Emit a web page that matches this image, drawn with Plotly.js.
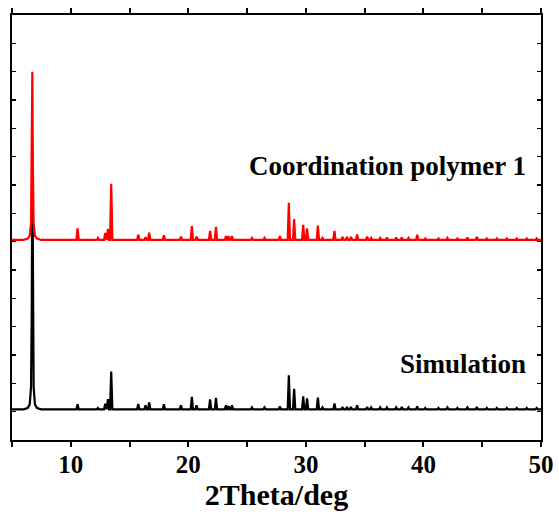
<!DOCTYPE html>
<html>
<head>
<meta charset="utf-8">
<script src="https://cdn.plot.ly/plotly-3.0.1.min.js"></script>
<style>
  html, body { margin: 0; padding: 0; background: #fff; }
  #chart { width: 559px; height: 514px; }
</style>
</head>
<body>
<div id="chart"></div>
<script>
// Powder XRD patterns: measured coordination polymer 1 (red, offset) vs simulated (black).

// Reflection positions (2θ, deg), shared by both patterns
const peakPositions = [10.58, 12.31, 12.93, 13.16, 13.44, 15.74, 16.36, 16.67, 17.92, 19.37,
  20.30, 20.70, 21.85, 22.35, 23.20, 23.42, 23.71, 25.41, 26.48, 27.79,
  28.55, 29.00, 29.77, 30.10, 31.02, 31.41, 32.43, 33.11, 33.49, 33.83,
  34.36, 35.21, 35.55, 36.32, 36.89, 37.68, 38.16, 38.73, 39.47, 40.15,
  41.28, 42.04, 42.89, 43.74, 44.54, 45.39, 46.24, 47.09, 47.94, 48.79, 49.63];

// Peak heights above the baseline (arbitrary intensity units)
const polymerHeights = [0.41, 0.07, 0.25, 0.39, 1.98, 0.18, 0.10, 0.26, 0.17, 0.12,
  0.49, 0.12, 0.32, 0.46, 0.14, 0.14, 0.14, 0.07, 0.07, 0.14,
  1.31, 0.74, 0.53, 0.41, 0.51, 0.07, 0.32, 0.11, 0.11, 0.11,
  0.19, 0.12, 0.07, 0.07, 0.09, 0.09, 0.09, 0.07, 0.18, 0.05,
  0.05, 0.07, 0.05, 0.09, 0.11, 0.05, 0.05, 0.05, 0.05, 0.05, 0.05];

const simulationHeights = [0.18, 0.05, 0.20, 0.36, 1.34, 0.19, 0.14, 0.25, 0.18, 0.14,
  0.44, 0.14, 0.35, 0.41, 0.14, 0.12, 0.14, 0.07, 0.07, 0.11,
  1.20, 0.73, 0.46, 0.39, 0.42, 0.07, 0.21, 0.09, 0.09, 0.09,
  0.14, 0.09, 0.07, 0.07, 0.07, 0.07, 0.09, 0.07, 0.11, 0.05,
  0.05, 0.07, 0.05, 0.07, 0.09, 0.05, 0.05, 0.05, 0.05, 0.05, 0.05];

// Strong low-angle reflection, traced point by point
const mainPeakX = [5.98, 6.33, 6.51, 6.62, 6.68, 6.73, 6.78, 6.84, 6.95, 7.13, 7.48];
const polymerMainRise = [0.00, 0.05, 0.15, 0.60, 2.50, 5.94, 2.50, 0.60, 0.15, 0.05, 0.00];
const simulationMainRise = [0.00, 0.05, 0.18, 0.80, 3.50, 9.00, 3.50, 0.80, 0.18, 0.05, 0.00];

// Baseline levels of the two stacked patterns
const polymerBaseline = 7.06;
const simulationBaseline = 1.08;

const xTickVals = [5, 10, 15, 20, 25, 30, 35, 40, 45, 50];
const xTickText = ['', '10', '', '20', '', '30', '', '40', '', '50'];

const seriesNames = ['Simulation', 'Coordination polymer 1'];

// Half-width of each reflection line drawn as a narrow spike
const HALF = 0.1;

function buildPattern(base, mainRise, heights) {
  const x = [5], y = [base];
  mainPeakX.forEach((p, i) => { x.push(p); y.push(base + mainRise[i]); });
  peakPositions.forEach((p, i) => {
    x.push(p - HALF, p, p + HALF);
    y.push(base, base + heights[i], base);
  });
  x.push(50); y.push(base);
  return { x, y };
}

const sim = buildPattern(simulationBaseline, simulationMainRise, simulationHeights);
const poly = buildPattern(polymerBaseline, polymerMainRise, polymerHeights);

const serif = 'Liberation Serif';

const traces = [
  { x: sim.x, y: sim.y, name: seriesNames[0], type: 'scatter', mode: 'lines',
    line: { color: '#000000', width: 2.2 }, hoverinfo: 'skip' },
  { x: poly.x, y: poly.y, name: seriesNames[1], type: 'scatter', mode: 'lines',
    line: { color: '#ff0000', width: 2.2 }, hoverinfo: 'skip' }
];

const layout = {
  width: 559, height: 514,
  margin: { l: 12, r: 18, t: 15, b: 74 },
  paper_bgcolor: '#ffffff', plot_bgcolor: '#ffffff',
  showlegend: false,
  font: { family: serif, color: '#000' },
  xaxis: {
    range: [5, 50], tickvals: xTickVals, ticktext: xTickText,
    ticks: 'outside', ticklen: 5, tickwidth: 2, tickcolor: '#000',
    ticklabelstandoff: -4,
    showline: true, linewidth: 2, linecolor: '#000', mirror: 'ticks',
    showgrid: false, zeroline: false,
    tickfont: { family: serif, size: 25, color: '#000', weight: 'bold' },
    title: { text: '2Theta/deg', font: { family: serif, size: 30, color: '#000', weight: 'bold' }, standoff: 2 }
  },
  yaxis: {
    range: [0, 15], tick0: 0, dtick: 1,
    ticks: 'inside', ticklen: 4, tickwidth: 1.5, tickcolor: '#000',
    showticklabels: false,
    showline: true, linewidth: 2, linecolor: '#000', mirror: 'ticks',
    showgrid: false, zeroline: false
  },
  annotations: [
    { text: seriesNames[1], x: 48.9, y: 9.67, xref: 'x', yref: 'y',
      xanchor: 'right', yanchor: 'middle', showarrow: false,
      font: { family: serif, size: 27, color: '#000', weight: 'bold' } },
    { text: seriesNames[0], x: 48.9, y: 2.68, xref: 'x', yref: 'y',
      xanchor: 'right', yanchor: 'middle', showarrow: false,
      font: { family: serif, size: 27, color: '#000', weight: 'bold' } }
  ]
};

Plotly.newPlot('chart', traces, layout, { staticPlot: true, displayModeBar: false });
</script>
</body>
</html>
